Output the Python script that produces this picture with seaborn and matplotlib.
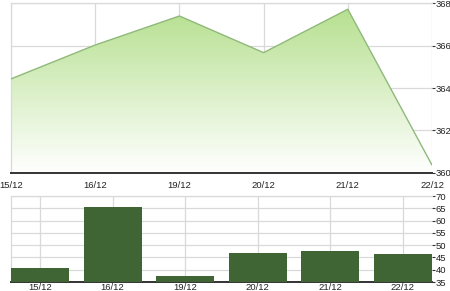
import numpy as np
import pandas as pd
import matplotlib
matplotlib.use("Agg")
import matplotlib.pyplot as plt
import seaborn as sns
from matplotlib.colors import LinearSegmentedColormap

dates = ["15/12", "16/12", "19/12", "20/12", "21/12", "22/12"]
price = [364.43, 366.03, 367.4, 365.67, 367.72, 360.36]
volume = [40.5, 65.5, 37.6, 46.8, 47.5, 46.3]
price_ticks = [360, 362, 364, 366, 368]
vol_ticks = [35, 40, 45, 50, 55, 60, 65, 70]

sns.set_theme(style="white")
plt.rcParams['font.family'] = ['Liberation Sans', 'DejaVu Sans']

grid_c = "#d9d9d9"
fs = 6.8
fig = plt.figure(figsize=(4.5, 2.91), dpi=100)
ax1 = fig.add_axes([11/450, 1-172.7/291, 421/450, 169.4/291])
ax2 = fig.add_axes([11/450, 1-282/291, 421/450, 86/291])

df = pd.DataFrame({"date": dates, "price": price, "x": np.arange(len(dates))})

# top area chart
sns.lineplot(data=df, x="x", y="price", ax=ax1, color="#8fb97a", linewidth=1.0, zorder=3)
poly = ax1.fill_between(df["x"], df["price"], 360, color="none", lw=0)
cmap = LinearSegmentedColormap.from_list("g", ["#ffffff", "#b4df8c"])
grad = np.linspace(0, 1, 256).reshape(-1, 1)
img = ax1.imshow(grad, cmap=cmap, aspect="auto", origin="lower",
                 extent=[0, len(dates)-1, 360, 368], zorder=2)
path = poly.get_paths()[0]
img.set_clip_path(path, transform=ax1.transData)
ax1.set_xlim(0, len(dates)-1)
ax1.set_ylim(360, 368)
ax1.set_xticks(df["x"])
ax1.set_xticklabels(dates)
ax1.set_yticks(price_ticks)
ax1.yaxis.tick_right()
ax1.set_xlabel("")
ax1.set_ylabel("")
ax1.grid(True, color=grid_c, linewidth=0.9, zorder=0)
ax1.set_axisbelow(True)
for s in ["top", "left", "right"]:
    ax1.spines[s].set_color(grid_c)
    ax1.spines[s].set_linewidth(0.9)
ax1.spines["right"].set_visible(False)
ax1.spines["bottom"].set_color("#333333")
ax1.spines["bottom"].set_linewidth(1.4)
ax1.tick_params(axis="x", length=0, pad=6, labelsize=fs, colors="#222222")
ax1.tick_params(axis="y", length=2, width=0.8, color="#333333", pad=0.5,
                labelsize=fs, labelcolor="#222222", right=True)

# bottom volume chart
sns.barplot(data=pd.DataFrame({"date": dates, "vol": volume}), x="date", y="vol",
            ax=ax2, color="#3f6535", saturation=1, width=0.8, zorder=3, linewidth=0)
ax2.set_xlim(-0.4, len(dates)-0.6)
ax2.set_ylim(35, 70)
ax2.set_yticks(vol_ticks)
ax2.yaxis.tick_right()
ax2.set_xlabel("")
ax2.set_ylabel("")
ax2.grid(True, color=grid_c, linewidth=0.9, zorder=0)
ax2.set_axisbelow(True)
for s in ["top", "left", "right"]:
    ax2.spines[s].set_color(grid_c)
    ax2.spines[s].set_linewidth(0.9)
ax2.spines["right"].set_visible(False)
ax2.spines["bottom"].set_color("#333333")
ax2.spines["bottom"].set_linewidth(1.4)
ax2.tick_params(axis="x", length=0, pad=1, labelsize=fs, colors="#222222")
ax2.tick_params(axis="y", length=2, width=0.8, color="#333333", pad=0.5,
                labelsize=fs, labelcolor="#222222", right=True)

fig.savefig("out.png", dpi=100)
